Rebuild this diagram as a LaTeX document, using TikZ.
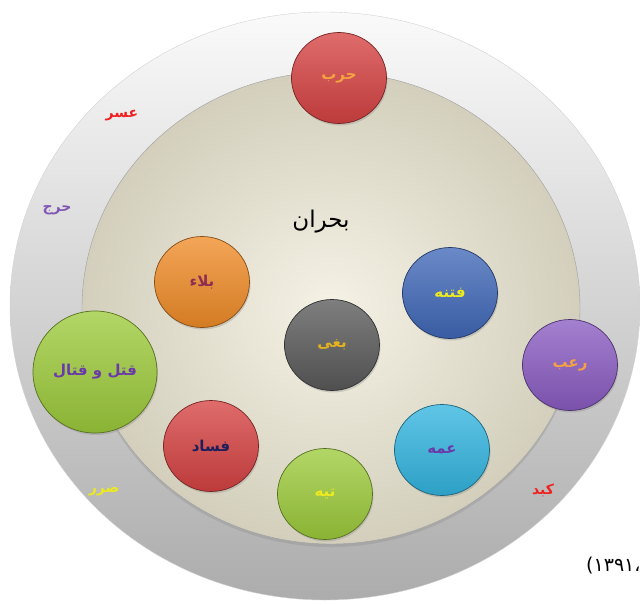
\documentclass[tikz,border=0pt]{standalone}
\usepackage{fontspec}
\TeXXeTstate=1
\newfontfamily\arabicfont[Script=Arabic]{DejaVu Sans}
\usetikzlibrary{shapes.geometric,shadows}
\newcommand{\fa}[1]{\beginR #1\endR}
\definecolor{harbfill}{HTML}{D64242}
\definecolor{balafill}{HTML}{F08C28}
\definecolor{qatlfill}{HTML}{9DCB3B}
\definecolor{baghyfill}{HTML}{5A5A5A}
\definecolor{fetnefill}{HTML}{4068B8}
\definecolor{roabfill}{HTML}{8A5CC2}
\definecolor{ammehfill}{HTML}{33B5E0}
\definecolor{orangetext}{HTML}{F4A340}
\definecolor{maroontext}{HTML}{8E2D52}
\definecolor{purpletext}{HTML}{6A3AA8}
\definecolor{goldtext}{HTML}{E3B21E}
\definecolor{yellowtext}{HTML}{EEEA1E}
\definecolor{navytext}{HTML}{1E1E5A}
\definecolor{ringred}{HTML}{F02020}
\definecolor{platelight}{HTML}{F5F2E6}
\definecolor{platedark}{HTML}{D3CFBC}
\begin{document}
\begin{tikzpicture}[
x=1pt, y=-1pt,
coin/.style={ellipse, draw=#1!55!black, line width=0.7pt,
  top color=#1!78!white, bottom color=#1!88!black,
  minimum width=95pt, minimum height=91pt, inner sep=0pt,
  font=\arabicfont\bfseries\fontsize{15}{18}\selectfont,
  drop shadow={opacity=0.3, shadow xshift=1pt, shadow yshift=-2pt}},
ringword/.style={font=\arabicfont\bfseries\fontsize{14}{17}\selectfont}
]
\useasboundingbox (0,0) rectangle (640,605);
\path[top color=gray!4, bottom color=gray!65, draw=gray!35]
  (325,306) ellipse [x radius=315pt, y radius=294pt];
\path[inner color=platelight, outer color=platedark, draw=gray!75,
  drop shadow={opacity=0.25, shadow xshift=0pt, shadow yshift=-3pt}]
  (331,308) ellipse [x radius=249pt, y radius=236pt];

\node[ringword, text=ringred] (asr) at (122,116) {\fa{عسر}};
\node[ringword, text=purpletext!85] (haraj) at (57,210) {\fa{حرج}};
\node[ringword, text=yellowtext] (zarar) at (104,491) {\fa{ضرر}};
\node[ringword, text=ringred] (kabad) at (543,490) {\fa{کبد}};
\node[font=\arabicfont\fontsize{23}{27}\selectfont] (bohran) at (321,222) {\fa{بحران}};

\node[coin=harbfill, text=orangetext] (harb) at (339,78) {\fa{حرب}};
\node[coin=balafill, text=maroontext] (bala) at (202,282) {\fa{بلاء}};
\node[coin=qatlfill, text=purpletext, minimum width=124pt, minimum height=122pt] (qatl) at (95,372) {\fa{قتل و قتال}};
\node[coin=baghyfill, text=goldtext] (baghy) at (332,345) {\fa{بغی}};
\node[coin=fetnefill, text=yellowtext] (fetne) at (450,293) {\fa{فتنه}};
\node[coin=roabfill, text=orangetext] (roab) at (570,365) {\fa{رعب}};
\node[coin=harbfill, text=navytext] (fesad) at (211,446) {\fa{فساد}};
\node[coin=qatlfill, text=yellowtext] (teeh) at (325,494) {\fa{تیه}};
\node[coin=ammehfill, text=purpletext] (ammeh) at (442,450) {\fa{عمه}};

\node[anchor=west, inner sep=0pt, font=\arabicfont\fontsize{19}{22}\selectfont] (cite) at (586,566) {،۱۳۹۱)};
\end{tikzpicture}
\end{document}
